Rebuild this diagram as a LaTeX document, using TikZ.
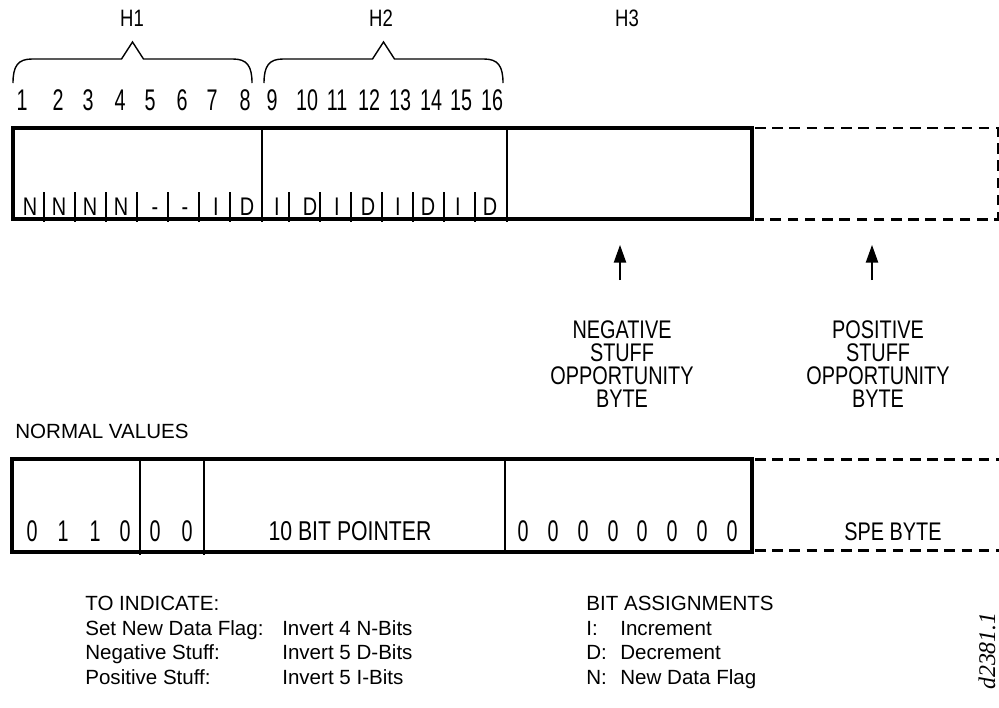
\documentclass[tikz,border=0pt]{standalone}
\usepackage{fontspec}
\setmainfont{Liberation Sans}
\newfontfamily\narrowfont[FakeStretch=0.78]{Liberation Sans}
\newfontfamily\numfont[FakeStretch=0.66]{Liberation Sans}
\newfontfamily\tagfont{Liberation Serif}
\usetikzlibrary{arrows.meta}

\begin{document}
\begin{tikzpicture}[
    % GLOBAL CFG (one unit = one pixel of the page)
    x=0.02cm, y=-0.02cm,
    % Styles
    frame/.style={% For the solid byte fields
        line width=1.9pt,
        },
    dashframe/.style={% For the SPE bytes after the overhead
        line width=1.7pt,
        dash pattern=on 6pt off 3.8pt,
        },
    divider/.style={% Between H1, H2, H3
        line width=1.1pt,
        },
    tick/.style={% Short bit separators
        line width=0.8pt,
        },
    brace/.style={% Curly braces over H1 and H2
        line width=0.8pt,
        },
    pointer/.style={% Arrows under the stuff bytes
        line width=0.7pt,
        -{Triangle[length=10pt, width=7pt]},
        },
    bitnum/.style={% Bit numbers and digits
        inner sep=0pt,
        text height=12.3pt,
        text depth=0pt,
        font=\numfont\fontsize{17}{17}\selectfont,
        },
    bitlbl/.style={% Letters inside the bits
        inner sep=0pt,
        text height=10.4pt,
        text depth=0pt,
        font=\narrowfont\fontsize{14.5}{14.5}\selectfont,
        },
    note/.style={% Texts under the arrows
        inner sep=0pt,
        align=center,
        font=\narrowfont\fontsize{14.5}{13}\selectfont,
        },
    legend/.style={% Plain texts
        inner sep=0pt,
        align=left,
        font=\fontsize{11.7}{14}\selectfont,
        },
    ]
\useasboundingbox (0,0) rectangle (999,707);
% Macro for one bit of H1/H2: number, letter and separator
\newcommand{\BitCell}[5]{
    \draw [tick] (#4,192) -- (#4,222);
    \node [bitnum] (num#1) at (#2,100) {#1};
    \node [bitlbl] (bit#1) at (#3,206) {#5};
}
% Macro for the braces over the bytes
\newcommand{\HBrace}[2]{
    \draw [brace] (#1,83) .. controls (#1,66) and (#1+5,59) .. (#1+19,59)
        -- ({(#1+#2)/2-11},59) -- ({(#1+#2)/2},42) -- ({(#1+#2)/2+11},59)
        -- (#2-19,59) .. controls (#2-5,59) and (#2,66) .. (#2,83);
}
% Macro for one digit of the normal values
\newcommand{\Value}[2]{
    \node [bitnum] (val#1) at (#1,531) {#2};
}
% Header labels and braces
\node [bitlbl, font=\narrowfont\fontsize{13.5}{13.5}\selectfont, text height=9.7pt] (h1) at (132,18) {H1};
\node [bitlbl, font=\narrowfont\fontsize{13.5}{13.5}\selectfont, text height=9.7pt] (h2) at (381,18) {H2};
\node [bitlbl, font=\narrowfont\fontsize{13.5}{13.5}\selectfont, text height=9.7pt] (h3) at (627,18) {H3};
\HBrace{13}{252}
\HBrace{264}{503}
% Pointer bytes
\BitCell{1}{22}{30}{44}{N}
\BitCell{2}{58}{59}{75}{N}
\BitCell{3}{88}{90}{106}{N}
\BitCell{4}{120}{121}{137}{N}
\BitCell{5}{150}{155}{168}{-}
\BitCell{6}{182}{185}{199}{-}
\BitCell{7}{212}{216}{230}{I}
\BitCell{8}{245}{247}{262}{D}
\BitCell{9}{272}{277}{289}{I}
\BitCell{10}{307}{310}{320}{D}
\BitCell{11}{337}{337}{351}{I}
\BitCell{12}{369}{368}{382}{D}
\BitCell{13}{400}{398}{413}{I}
\BitCell{14}{431}{428}{444}{D}
\BitCell{15}{461}{458}{475}{I}
\BitCell{16}{492}{490}{507}{D}
\draw [frame] (13,128) rectangle (752,219);
\draw [divider] (262,128) -- (262,222);
\draw [divider] (507,128) -- (507,219);
\draw [dashframe] (755,128) -- (998,128) -- (998,219) -- (755,219);
% Stuff opportunity bytes
\coordinate (negtail) at (620,280);
\coordinate (neghead) at (620,245);
\coordinate (postail) at (872,280);
\coordinate (poshead) at (872,245);
\draw [pointer] (negtail) -- (neghead);
\draw [pointer] (postail) -- (poshead);
\node [note] (negnote) at (622,364) {NEGATIVE\\STUFF\\OPPORTUNITY\\BYTE};
\node [note] (posnote) at (878,364) {POSITIVE\\STUFF\\OPPORTUNITY\\BYTE};
% Normal values
\node [legend, anchor=west] (normal) at (15,431) {NORMAL VALUES};
\draw [frame] (12,459) rectangle (752,552);
\draw [divider] (140,459) -- (140,555);
\draw [divider] (204,459) -- (204,555);
\draw [divider] (505,459) -- (505,552);
\draw [dashframe] (755,459) -- (999,459);
\draw [dashframe] (755,550) -- (999,550);
\Value{32}{0}
\Value{63}{1}
\Value{95}{1}
\Value{125}{0}
\Value{155}{0}
\Value{187}{0}
\node [bitlbl, font=\narrowfont\fontsize{15.5}{15.5}\selectfont, text height=11.1pt] (ptr) at (350,531) {10 BIT POINTER};
\Value{523}{0}
\Value{553}{0}
\Value{583}{0}
\Value{613}{0}
\Value{642}{0}
\Value{672}{0}
\Value{702}{0}
\Value{732}{0}
\node [bitlbl] (spe) at (893,531) {SPE BYTE};
% Legends
\node [legend, anchor=north west] (indicate) at (85,596) {TO INDICATE:\\
    \makebox[3.94cm][l]{Set New Data Flag:}Invert 4 N-Bits\\
    \makebox[3.94cm][l]{Negative Stuff:}Invert 5 D-Bits\\
    \makebox[3.94cm][l]{Positive Stuff:}Invert 5 I-Bits};
\node [legend, anchor=north west] (assign) at (586,596) {BIT ASSIGNMENTS\\
    \makebox[0.68cm][l]{I:}Increment\\
    \makebox[0.68cm][l]{D:}Decrement\\
    \makebox[0.68cm][l]{N:}New Data Flag};
\node [inner sep=0pt, rotate=90, font=\tagfont\itshape\fontsize{13.6}{13.6}\selectfont] (figid) at (987,651) {d2381.1};
\end{tikzpicture}
\end{document}
